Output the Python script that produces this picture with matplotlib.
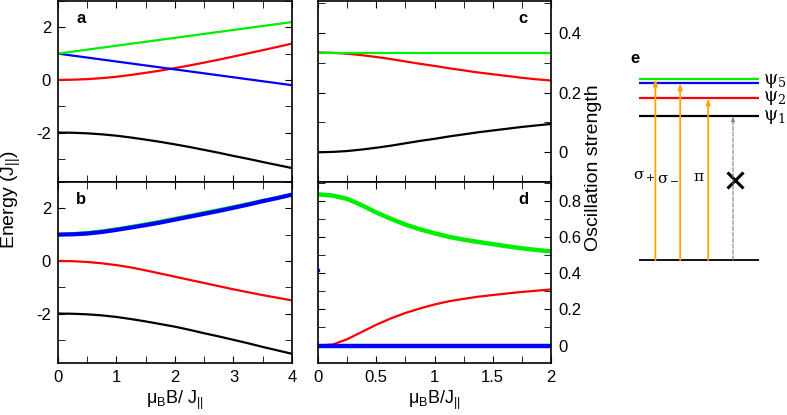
#! /usr/bin/env python3

import matplotlib
matplotlib.use('Agg')
import matplotlib.pyplot as plt
from matplotlib.ticker import MultipleLocator

plt.rcParams['font.family'] = ['Liberation Sans', 'DejaVu Sans']
plt.rcParams['mathtext.fontset'] = 'custom'
plt.rcParams['mathtext.rm'] = 'Liberation Sans'
plt.rcParams['mathtext.it'] = 'Liberation Sans:italic'

# ---- panel a / b : energies vs field (x = muB B / J||)
field_ab = [0, 0.25, 0.5, 0.75, 1, 1.25, 1.5, 1.75, 2, 2.25, 2.5, 2.75, 3, 3.25, 3.5, 3.75, 4]
a_green = [1.0, 1.075, 1.15, 1.225, 1.3, 1.375, 1.45, 1.525, 1.6, 1.675, 1.75, 1.825, 1.9, 1.975, 2.05, 2.125, 2.2]
a_blue = [1.0, 0.925, 0.85, 0.775, 0.7, 0.625, 0.55, 0.475, 0.4, 0.325, 0.25, 0.175, 0.1, 0.025, -0.05, -0.125, -0.2]
a_red = [0.0, 0.008, 0.03, 0.068, 0.12, 0.19, 0.27, 0.355, 0.45, 0.55, 0.66, 0.77, 0.89, 1.01, 1.13, 1.255, 1.38]
a_black = [-2.0, -2.008, -2.03, -2.068, -2.12, -2.19, -2.27, -2.355, -2.45, -2.55, -2.66, -2.77, -2.89, -3.0, -3.12, -3.235, -3.35]

b_green = [1.0, 1.03, 1.07, 1.13, 1.21, 1.3, 1.4, 1.5, 1.61, 1.72, 1.83, 1.94, 2.05, 2.17, 2.29, 2.4, 2.52]
b_blue = [1.0, 1.01, 1.04, 1.1, 1.18, 1.27, 1.36, 1.46, 1.57, 1.68, 1.79, 1.9, 2.02, 2.14, 2.27, 2.39, 2.52]
b_red = [0.0, -0.01, -0.04, -0.09, -0.16, -0.25, -0.36, -0.48, -0.6, -0.72, -0.84, -0.96, -1.08, -1.19, -1.3, -1.4, -1.5]
b_black = [-2.0, -2.008, -2.03, -2.07, -2.13, -2.21, -2.3, -2.4, -2.5, -2.62, -2.75, -2.87, -3.0, -3.13, -3.27, -3.4, -3.53]

# ---- panel c / d : oscillation strengths
field_cd = [0, 0.125, 0.25, 0.375, 0.5, 0.625, 0.75, 0.875, 1, 1.125, 1.25, 1.375, 1.5, 1.625, 1.75, 1.875, 2]
c_green = [0.335] * 17
c_red = [0.335, 0.334, 0.331, 0.326, 0.32, 0.313, 0.305, 0.297, 0.29, 0.282, 0.275, 0.268, 0.262, 0.256, 0.25, 0.245, 0.241]
c_black = [0.0, 0.001, 0.004, 0.009, 0.015, 0.022, 0.03, 0.038, 0.045, 0.053, 0.06, 0.067, 0.073, 0.079, 0.085, 0.09, 0.095]

d_green = [0.835, 0.828, 0.81, 0.775, 0.735, 0.7, 0.668, 0.642, 0.62, 0.6, 0.585, 0.572, 0.56, 0.548, 0.537, 0.528, 0.52]
d_red = [0.0, 0.006, 0.035, 0.075, 0.115, 0.15, 0.18, 0.205, 0.227, 0.245, 0.258, 0.27, 0.279, 0.288, 0.296, 0.303, 0.31]
d_blue = [0.0] * 17
d_blue_pt = (0.0, 0.42)

# ---- panel e : level scheme
levels = [1.44, 1.62, 1.77, 1.81]          # psi1, psi2, blue, psi5
level_colors = ['black', 'red', 'blue', '#00ee00']
arrow_x = [0.19, 0.345, 0.52]
arrow_top = [1.81, 1.77, 1.62]
arrow_labels = [r'$\mathregular{\sigma_+}$', r'$\mathregular{\sigma_-}$', r'$\mathregular{\pi}$']
arrow_label_x = [0.19, 0.34, 0.495]

GREEN = '#00ee00'
ORANGE = '#ffa500'


def style(ax, left_labels=True):
    ax.tick_params(which='both', direction='in', top=True, right=True,
                   labelsize=12, pad=5)
    ax.tick_params(which='major', length=5)
    ax.tick_params(which='minor', length=5)
    if not left_labels:
        ax.tick_params(labelleft=False, labelright=True)
    for s in ax.spines.values():
        s.set_linewidth(1.2)


fig = plt.figure(figsize=(7.87, 4.15), dpi=100)
W, H = 787.0, 415.0

def pos(x0, y0, x1, y1):
    return [x0 / W, 1 - y1 / H, (x1 - x0) / W, (y1 - y0) / H]

ax_a = fig.add_axes(pos(58, 1, 292, 182))
ax_b = fig.add_axes(pos(58, 182, 292, 363))
ax_c = fig.add_axes(pos(318, 1, 551, 182))
ax_d = fig.add_axes(pos(318, 182, 551, 363))
ax_e = fig.add_axes(pos(625, 40, 785, 280))

lw = 1.6
ax_a.plot(field_ab, a_black, color='black', lw=lw)
ax_a.plot(field_ab, a_red, color='red', lw=lw)
ax_a.plot(field_ab, a_blue, color='blue', lw=lw)
ax_a.plot(field_ab, a_green, color=GREEN, lw=lw)

ax_b.plot(field_ab, b_black, color='black', lw=lw)
ax_b.plot(field_ab, b_red, color='red', lw=lw)
ax_b.plot(field_ab, b_green, color=GREEN, lw=2.6)
ax_b.plot(field_ab, b_blue, color='blue', lw=3.0)

for ax in (ax_a, ax_b):
    ax.set_xlim(0, 4)
    ax.set_ylim(-3.88, 3.0)
    ax.xaxis.set_major_locator(MultipleLocator(1))
    ax.xaxis.set_minor_locator(MultipleLocator(0.5))
    ax.yaxis.set_minor_locator(MultipleLocator(1))
    ax.set_yticks([-2, 0, 2])
    ax.set_yticklabels(['-2', '0', '2'])
    style(ax)
ax_a.tick_params(labelbottom=False)
ax_b.set_xlabel(r'$\mathregular{\mu_B}$B/ J$_{||}$', fontsize=13, labelpad=3)

ax_c.plot(field_cd, c_black, color='black', lw=lw)
ax_c.plot(field_cd, c_red, color='red', lw=lw)
ax_c.plot(field_cd, c_green, color=GREEN, lw=lw)
ax_c.set_ylim(-0.1, 0.508)
ax_c.yaxis.set_minor_locator(MultipleLocator(0.1))
ax_c.set_yticks([0, 0.2, 0.4])
ax_c.set_yticklabels(['0', '0.2', '0.4'])

ax_d.plot(field_cd, d_red, color='red', lw=lw)
ax_d.plot(field_cd, d_green, color=GREEN, lw=3.2)
ax_d.plot(field_cd, d_blue, color='blue', lw=3.2)
ax_d.plot(*d_blue_pt, 's', color='blue', ms=2)
ax_d.set_ylim(-0.096, 0.903)
ax_d.set_yticks([0, 0.2, 0.4, 0.6, 0.8])
ax_d.set_yticklabels(['0', '0.2', '0.4', '0.6', '0.8'])
ax_d.yaxis.set_minor_locator(MultipleLocator(0.1))

for ax in (ax_c, ax_d):
    ax.set_xlim(0, 2)
    ax.xaxis.set_major_locator(MultipleLocator(0.5))
    ax.xaxis.set_minor_locator(MultipleLocator(0.25))
    style(ax, left_labels=False)
ax_c.tick_params(labelbottom=False)
ax_d.set_xticks([0, 0.5, 1, 1.5, 2])
ax_d.set_xticklabels(['0', '0.5', '1', '1.5', '2'])
ax_d.set_xlabel(r'$\mathregular{\mu_B}$B/J$_{||}$', fontsize=13, labelpad=3)

for ax, lab, x in ((ax_a, 'a', 0.10), (ax_b, 'b', 0.10), (ax_c, 'c', 0.88), (ax_d, 'd', 0.88)):
    ax.text(x, 0.905, lab, transform=ax.transAxes, fontsize=12,
            fontweight='bold', ha='center', va='center')

fig.text(11 / W, 1 - 200 / H, r'Energy (J$_{||}$)', rotation=90,
         fontsize=14, ha='center', va='center')
fig.text(594 / W, 1 - 168 / H, 'Oscillation strength', rotation=90,
         fontsize=14, ha='center', va='center')

# level scheme
ax_e.set_xlim(0, 1)
ax_e.set_ylim(-0.2, 2.2)
ax_e.axis('off')
ax_e.hlines(0, 0.0875, 0.8375, color='black', lw=1.3)
for lv, c in zip(levels, level_colors):
    ax_e.hlines(lv, 0.0875, 0.8375, color=c, lw=1.6)
for x, top, lab, lx in zip(arrow_x, arrow_top, arrow_labels, arrow_label_x):
    ax_e.annotate('', xy=(x, top), xytext=(x, 0),
                  arrowprops=dict(arrowstyle='-|>,head_length=0.35,head_width=0.12',
                                  color=ORANGE, lw=1.3, shrinkA=0, shrinkB=0))
    ax_e.text(lx, 0.83, lab, fontsize=11, ha='right', va='center',
              family='DejaVu Serif')
ax_e.annotate('', xy=(0.675, levels[0]), xytext=(0.675, 0),
              arrowprops=dict(arrowstyle='-|>,head_length=0.3,head_width=0.1',
                              color='gray', lw=0.8, ls='--', shrinkA=0, shrinkB=0))
ax_e.plot(0.6875, 0.8, 'x', color='black', ms=11, mew=2.2)
ax_e.text(0.0625, 2.02, 'e', fontsize=12, fontweight='bold', ha='center', va='center')
for y, lab in ((1.79, r'$\mathregular{\psi_5}$'), (1.625, r'$\mathregular{\psi_2}$'),
               (1.43, r'$\mathregular{\psi_1}$')):
    ax_e.text(0.86, y, lab, fontsize=13, ha='left', va='center',
              family='DejaVu Serif')

plt.savefig('out.png', dpi=100)
